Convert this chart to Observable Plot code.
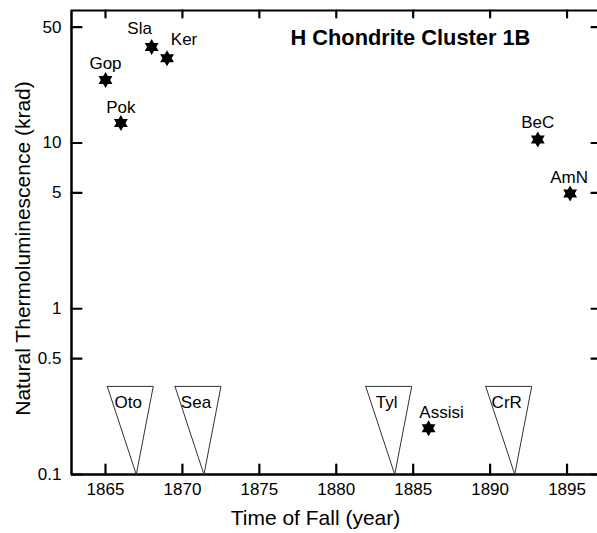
<!DOCTYPE html>
<html>
<head>
<meta charset="utf-8">
<script src="https://cdn.jsdelivr.net/npm/d3@7"></script>
<script src="https://cdn.jsdelivr.net/npm/@observablehq/plot@0.6"></script>
<style>
  html, body { margin: 0; padding: 0; background: #fff; }
  #chart { width: 597px; height: 533px; }
</style>
</head>
<body>
<div id="chart"></div>
<script>
// ---- data ----
const names = ["Gop", "Pok", "Sla", "Ker", "Assisi", "BeC", "AmN"];
const years = [1865.0, 1866.0, 1868.0, 1869.0, 1886.0, 1893.1, 1895.2];
const ntl = [24, 13.2, 38, 32.5, 0.19, 10.5, 4.95];

// upper limits (triangles pointing to the fall year)
const limitNames = ["Oto", "Sea", "Tyl", "CrR"];
const limitYears = [1867.0, 1871.4, 1883.8, 1891.6];
const limitTop = 0.34;

const xTicks = [1865, 1870, 1875, 1880, 1885, 1890, 1895];
const xTickLabels = ["1865", "1870", "1875", "1880", "1885", "1890", "1895"];
const yTicks = [0.1, 0.5, 1, 5, 10, 50];
const yTickLabels = ["0.1", "0.5", "1", "5", "10", "50"];

const title = "H Chondrite Cluster 1B";
const xLabel = "Time of Fall (year)";
const yLabel = "Natural Thermoluminescence (krad)";

// ---- layout ----
const W = 597, H = 533, mTop = 10, mLeft = 71, mRight = 0, mBottom = 59;
const xDomain = [1862.79, 1896.98];
const yDomain = [0.1, 63];
const pxPerYear = (W - mLeft - mRight) / (xDomain[1] - xDomain[0]);
const pxPerDecade = (H - mTop - mBottom) / Math.log10(yDomain[1] / yDomain[0]);
const font = "'Liberation Sans', Arial, Helvetica, sans-serif";

// ---- build ----
const points = names.map((n, i) => ({name: n, year: years[i], ntl: ntl[i]}));
const labelOffsets = {
  Gop: [0, -16], Pok: [0, -15], Sla: [-12, -18], Ker: [17, -19],
  Assisi: [13, -16], BeC: [0, -17], AmN: [-1, -16]
};
const limits = limitNames.map((n, i) => ({name: n, year: limitYears[i]}));
const triangles = limits.flatMap(d => [
  {name: d.name, x: d.year - 1.885, y: limitTop},
  {name: d.name, x: d.year, y: 0.1},
  {name: d.name, x: d.year + 1.105, y: limitTop},
  {name: d.name, x: d.year - 1.885, y: limitTop}
]);
const xTickData = xTicks.map((v, i) => ({v, label: xTickLabels[i]}));
const yTickData = yTicks.map((v, i) => ({v, label: yTickLabels[i]}));

// inward tick segments (length in pixels converted to data units)
const upPx = px => Math.pow(10, px / pxPerDecade);
const tickSegs = [
  ...xTicks.flatMap(v => [
    {id: "b" + v, x: v, y: yDomain[0]}, {id: "b" + v, x: v, y: yDomain[0] * upPx(10)}]),
  ...xTicks.flatMap(v => [
    {id: "t" + v, x: v, y: yDomain[1]}, {id: "t" + v, x: v, y: yDomain[1] / upPx(7)}]),
  ...yTicks.flatMap(v => [
    {id: "l" + v, x: xDomain[0], y: v}, {id: "l" + v, x: xDomain[0] + 10 / pxPerYear, y: v}]),
  ...yTicks.flatMap(v => [
    {id: "r" + v, x: xDomain[1] - 6 / pxPerYear, y: v}, {id: "r" + v, x: xDomain[1], y: v}])
];

const hexagram = {
  draw(context, size) {
    const R = Math.sqrt(size / Math.PI);
    const r = R / Math.sqrt(3);
    for (let i = 0; i < 12; i++) {
      const a = i * Math.PI / 6 - Math.PI / 2;
      const rad = i % 2 ? r : R;
      const px = rad * Math.cos(a), py = rad * Math.sin(a);
      if (i === 0) context.moveTo(px, py); else context.lineTo(px, py);
    }
    context.closePath();
  }
};

const chart = Plot.plot({
  width: W,
  height: H,
  marginTop: mTop,
  marginLeft: mLeft,
  marginRight: mRight,
  marginBottom: mBottom,
  style: {fontFamily: font, fontSize: "17px", background: "#fff", color: "#000"},
  x: {domain: xDomain, axis: null},
  y: {type: "log", domain: yDomain, axis: null},
  marks: [
    // frame (left, bottom, top)
    Plot.ruleX([xDomain[0]], {stroke: "#000", strokeWidth: 2.5}),
    Plot.ruleY([yDomain[0]], {stroke: "#000", strokeWidth: 2.5}),
    Plot.ruleY([yDomain[1]], {stroke: "#000", strokeWidth: 1.8}),
    // inward ticks on all four sides
    Plot.line(tickSegs, {x: "x", y: "y", z: "id", stroke: "#000", strokeWidth: 2.2, curve: "linear"}),
    // tick labels
    Plot.text(xTickData, {x: "v", y: () => yDomain[0], text: "label", dy: 15, textAnchor: "middle",
      lineAnchor: "middle", fontSize: 17, fill: "#000"}),
    Plot.text(yTickData, {x: () => xDomain[0], y: "v", text: "label", dx: -10, textAnchor: "end",
      lineAnchor: "middle", fontSize: 17, fill: "#000"}),
    // upper-limit triangles
    Plot.line(triangles, {x: "x", y: "y", z: "name", stroke: "#333", strokeWidth: 1, curve: "linear"}),
    Plot.text(limits, {x: "year", y: 0.27, text: "name", dx: -8, fontSize: 17, fill: "#000"}),
    // measured points
    Plot.dot(points, {x: "year", y: "ntl", symbol: hexagram, r: 8, fill: "#000", stroke: "none"}),
    ...points.map(p => Plot.text([p], {x: "year", y: "ntl", text: "name",
      dx: labelOffsets[p.name][0], dy: labelOffsets[p.name][1], fontSize: 17, fill: "#000"})),
    // title and axis labels
    Plot.text([title], {frameAnchor: "top-left", dx: 219, dy: 28, textAnchor: "start", lineAnchor: "middle",
      fontSize: 21.8, fontWeight: "bold", fill: "#000"}),
    Plot.text([xLabel], {frameAnchor: "bottom", dx: -19, dy: 44, textAnchor: "middle", lineAnchor: "middle",
      fontSize: 21, fill: "#000"}),
    Plot.text([yLabel], {frameAnchor: "left", dx: -48, dy: 6, rotate: -90, textAnchor: "middle",
      lineAnchor: "middle", fontSize: 21, fill: "#000"})
  ]
});
document.getElementById("chart").appendChild(chart);
</script>
</body>
</html>
